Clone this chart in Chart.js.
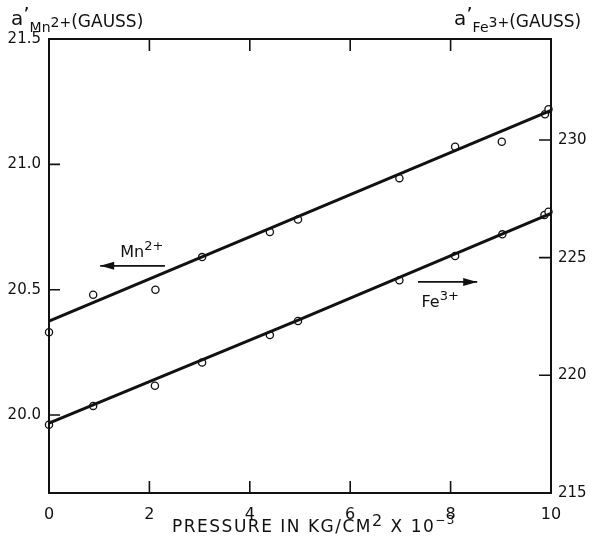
<!DOCTYPE html>
<html>
<head>
<meta charset="utf-8">
<script src="https://cdn.jsdelivr.net/npm/chart.js@4.4.1/dist/chart.umd.min.js"></script>
<style>
  html, body { margin: 0; padding: 0; background: #fff; }
  #wrap { width: 592px; height: 539px; position: relative; }
</style>
</head>
<body>
<div id="wrap"><canvas id="chart"></canvas></div>
<script>
// Hyperfine splitting a' vs pressure, Mn2+ (left axis) and Fe3+ (right axis)

const FONT = '"DejaVu Sans", sans-serif';
const INK = '#111';

// measured points
const mnPressure = [0, 0.88, 2.12, 3.05, 4.40, 4.96, 6.98, 8.09, 9.02, 9.88, 9.95];
const mnSplit    = [20.33, 20.48, 20.50, 20.63, 20.73, 20.78, 20.945, 21.07, 21.09, 21.20, 21.22];
const fePressure = [0, 0.88, 2.11, 3.05, 4.40, 4.96, 6.98, 8.09, 9.03, 9.87, 9.95];
const feSplit    = [217.9, 218.7, 219.56, 220.54, 221.71, 222.31, 224.04, 225.07, 225.99, 226.81, 226.95];

// drawn fit lines
const mnFitX = [0, 10];
const mnFitY = [20.375, 21.215];
const feFitX = [0, 5, 10];
const feFitY = [217.97, 222.38, 226.88];

// tick values
const xTicks  = [0, 2, 4, 6, 8, 10];
const mnTicks = [20.0, 20.5, 21.0, 21.5];
const feTicks = [215, 220, 225, 230];

const pts = (xs, ys) => xs.map((x, i) => ({ x, y: ys[i] }));

function fixTicks(values) {
  return scale => { scale.ticks = values.map(v => ({ value: v })); };
}

// frame, inward tick marks, titles, arrow labels
const decor = {
  id: 'decor',
  afterDraw(chart) {
    const { ctx, chartArea: a, scales } = chart;
    const x = scales.x, y = scales.y, y2 = scales.y2;
    ctx.save();
    ctx.strokeStyle = INK;
    ctx.fillStyle = INK;
    ctx.lineWidth = 2;
    ctx.strokeRect(a.left, a.top, a.right - a.left, a.bottom - a.top);

    ctx.lineWidth = 1.6;
    ctx.beginPath();
    [2, 4, 6, 8].forEach(v => {
      const px = x.getPixelForValue(v);
      ctx.moveTo(px, a.bottom); ctx.lineTo(px, a.bottom - 12);
      ctx.moveTo(px, a.top); ctx.lineTo(px, a.top + 12);
    });
    [20.0, 20.5, 21.0].forEach(v => {
      const py = y.getPixelForValue(v);
      ctx.moveTo(a.left, py); ctx.lineTo(a.left + 11, py);
    });
    [220, 225, 230].forEach(v => {
      const py = y2.getPixelForValue(v);
      ctx.moveTo(a.right, py); ctx.lineTo(a.right - 12, py);
    });
    ctx.stroke();

    // rich text helper: parts = [text, size, baseline offset]
    const rich = (parts, x0, base, spacing = 0) => {
      let cx = x0;
      ctx.letterSpacing = spacing + 'px';
      parts.forEach(([t, s, dy]) => {
        ctx.font = `${s}px ${FONT}`;
        ctx.textBaseline = 'alphabetic';
        ctx.textAlign = 'left';
        ctx.fillText(t, cx, base + dy);
        cx += ctx.measureText(t).width;
      });
      ctx.letterSpacing = '0px';
    };
    rich([['a', 20, 0], ['\u2019', 20, -4], ['Mn', 14, 7], ['2+', 14, 2], ['(GAUSS)', 17, 2]], 11, 25);
    rich([['a', 20, 0], ['\u2019', 20, -4], ['Fe', 14, 7], ['3+', 14, 2], ['(GAUSS)', 17, 2]], 454, 25);

    // axis title
    rich([['PRESSURE IN KG/CM', 17, 0], ['2', 16, -6], [' X 10', 17, 0], ['\u22123', 12, -8]], 172, 532, 1.5);

    // arrow labels (positions in data units)
    const arrow = (xFrom, xTo, py, head) => {
      const p0 = x.getPixelForValue(xFrom), p1 = x.getPixelForValue(xTo);
      ctx.lineWidth = 1.6;
      ctx.beginPath(); ctx.moveTo(p0, py); ctx.lineTo(p1, py); ctx.stroke();
      const hx = head === 'left' ? p0 : p1;
      const d = head === 'left' ? 1 : -1;
      ctx.beginPath();
      ctx.moveTo(hx, py); ctx.lineTo(hx + d * 14, py - 4); ctx.lineTo(hx + d * 14, py + 4);
      ctx.closePath(); ctx.fill();
    };
    arrow(1.02, 2.31, y.getPixelForValue(20.595), 'left');
    rich([['Mn', 16, 0], ['2+', 13, -7]], x.getPixelForValue(1.42), y.getPixelForValue(20.63));
    arrow(7.35, 8.53, y2.getPixelForValue(223.97), 'right');
    rich([['Fe', 16, 0], ['3+', 13, -7]], x.getPixelForValue(7.42), y2.getPixelForValue(222.9));
    ctx.restore();
  },
};

const marker = {
  showLine: false,
  pointRadius: 3.6,
  pointBackgroundColor: '#fff',
  pointBorderColor: INK,
  pointBorderWidth: 1.3,
  clip: false,
};
const fit = {
  showLine: true,
  pointRadius: 0,
  borderColor: INK,
  borderWidth: 3,
  tension: 0,
  clip: false,
};

new Chart(document.getElementById('chart'), {
  type: 'scatter',
  data: {
    datasets: [
      { ...fit, label: 'Mn fit', data: pts(mnFitX, mnFitY), yAxisID: 'y' },
      { ...fit, label: 'Fe fit', data: pts(feFitX, feFitY), yAxisID: 'y2' },
      { ...marker, label: 'Mn2+', data: pts(mnPressure, mnSplit), yAxisID: 'y' },
      { ...marker, label: 'Fe3+', data: pts(fePressure, feSplit), yAxisID: 'y2' },
    ],
  },
  options: {
    responsive: true,
    maintainAspectRatio: false,
    animation: false,
    layout: { padding: { top: 39, left: 0, right: 0, bottom: 0 } },
    plugins: { legend: { display: false }, tooltip: { enabled: false } },
    scales: {
      x: {
        type: 'linear', min: 0, max: 10,
        afterBuildTicks: fixTicks(xTicks),
        afterFit: s => { s.height = 46; },
        grid: { display: false, drawTicks: false },
        border: { display: false },
        ticks: { color: INK, padding: 12, font: { family: FONT, size: 16 }, maxRotation: 0 },
      },
      y: {
        type: 'linear', position: 'left', min: 19.689, max: 21.5,
        afterBuildTicks: fixTicks(mnTicks),
        afterFit: s => { s.width = 49; },
        grid: { display: false, drawTicks: false },
        border: { display: false },
        ticks: { color: INK, padding: 8, font: { family: FONT, size: 15 }, callback: v => v.toFixed(1) },
      },
      y2: {
        type: 'linear', position: 'right', min: 215, max: 234.29,
        afterBuildTicks: fixTicks(feTicks),
        afterFit: s => { s.width = 41; },
        grid: { display: false, drawTicks: false },
        border: { display: false },
        ticks: { color: INK, padding: 7, font: { family: FONT, size: 15 } },
      },
    },
  },
  plugins: [decor],
});
</script>
</body>
</html>
